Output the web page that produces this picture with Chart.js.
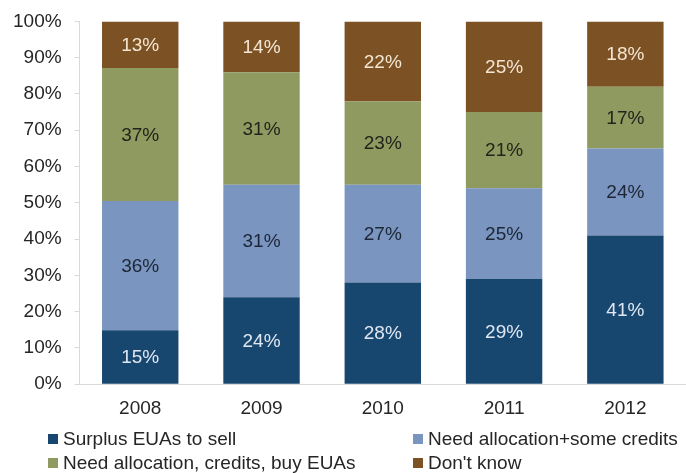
<!DOCTYPE html>
<html>
<head>
<meta charset="utf-8">
<script src="https://cdn.jsdelivr.net/npm/chart.js@4"></script>
<style>
  body { margin: 0; background: #fff; font-family: "Liberation Sans", Arial, sans-serif; }
  #wrap { position: relative; width: 686px; height: 473px; overflow: hidden; }
  #bar-chart { display: block; margin-top: -3px; }
  #legend { position: absolute; left: 48px; top: 429px; width: 638px; display: grid;
    grid-template-columns: 365px 273px; row-gap: 4px; font-size: 19px; color: #262626; }
  .item { display: flex; align-items: center; height: 20px; white-space: nowrap; }
  .box { width: 10px; height: 10px; margin-right: 5px; flex: none; }
</style>
</head>
<body>
<div id="wrap">
  <canvas id="bar-chart" width="686" height="436"></canvas>
  <div id="legend"></div>
</div>
<script>
const years = ["2008", "2009", "2010", "2011", "2012"];
const surplus = [15, 24, 28, 29, 41];
const someCredits = [36, 31, 27, 25, 24];
const buyEUAs = [37, 31, 23, 21, 17];
const dontKnow = [13, 14, 22, 25, 18];
const yTicks = ["0%", "10%", "20%", "30%", "40%", "50%", "60%", "70%", "80%", "90%", "100%"];

const series = [
  { label: "Surplus EUAs to sell", data: surplus, color: "#17466f", text: "#dfe8f2" },
  { label: "Need allocation+some credits", data: someCredits, color: "#7a95bf", text: "#1c2636" },
  { label: "Need allocation, credits, buy EUAs", data: buyEUAs, color: "#8f9a61", text: "#20241a" },
  { label: "Don't know", data: dontKnow, color: "#7c5124", text: "#f3e6d3" },
];

// 100% stacked: each year scaled to its total
const totals = years.map((_, i) => series.reduce((s, d) => s + d.data[i], 0));
const font = "'Liberation Sans', Arial, sans-serif";

const labelPlugin = {
  id: "segLabels",
  afterDatasetsDraw(chart) {
    const ctx = chart.ctx;
    ctx.save();
    ctx.font = "19px " + font;
    ctx.textAlign = "center";
    ctx.textBaseline = "middle";
    chart.data.datasets.forEach((ds, di) => {
      chart.getDatasetMeta(di).data.forEach((bar, i) => {
        ctx.fillStyle = series[di].text;
        ctx.fillText(series[di].data[i] + "%", bar.x, (bar.y + bar.base) / 2 + 1);
      });
    });
    ctx.restore();
  },
};

new Chart(document.getElementById("bar-chart").getContext("2d"), {
  type: "bar",
  data: {
    labels: years,
    datasets: series.map((s) => ({
      label: s.label,
      data: s.data.map((v, i) => (v / totals[i]) * 100),
      backgroundColor: s.color,
      borderWidth: 0,
      categoryPercentage: 1,
      barPercentage: 0.63,
    })),
  },
  options: {
    responsive: false,
    animation: false,
    layout: { padding: { left: 0, right: 0, top: 7, bottom: 0 } },
    plugins: { legend: { display: false }, tooltip: { enabled: false } },
    scales: {
      x: {
        stacked: true,
        grid: { display: false, drawTicks: false },
        border: { color: "#d9d9d9" },
        ticks: { color: "#262626", font: { size: 19, family: font }, padding: 13 },
      },
      y: {
        stacked: true,
        min: 0,
        max: 100,
        grid: { drawOnChartArea: false, color: "#d9d9d9", tickLength: 5 },
        border: { color: "#d9d9d9" },
        ticks: {
          stepSize: 10,
          color: "#262626",
          padding: 13,
          font: { size: 19, family: font },
          callback: (v) => yTicks[Math.round(v / 10)],
        },
      },
    },
  },
  plugins: [labelPlugin],
});

const legend = document.getElementById("legend");
series.forEach((s) => {
  const el = document.createElement("div");
  el.className = "item";
  el.innerHTML = '<span class="box" style="background:' + s.color + '"></span>' + s.label;
  legend.appendChild(el);
});
</script>
</body>
</html>
